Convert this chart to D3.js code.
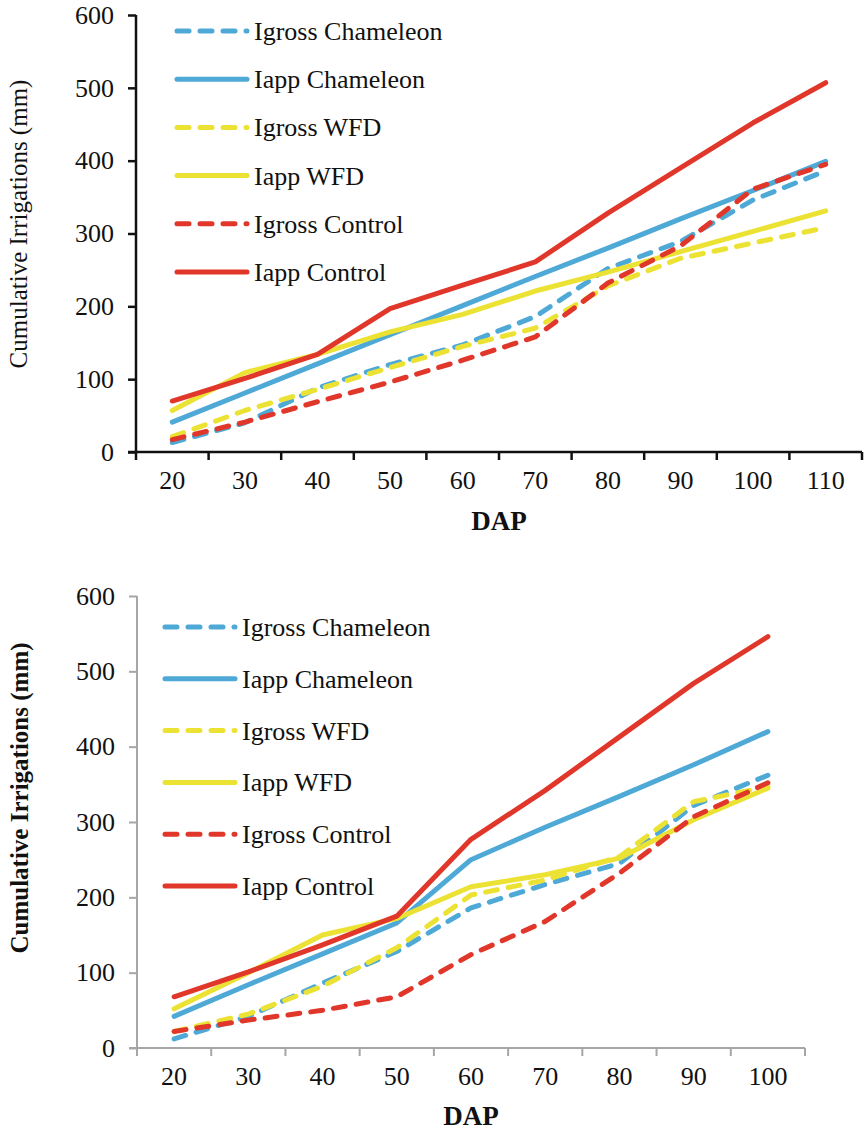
<!DOCTYPE html>
<html>
<head>
<meta charset="utf-8">
<script src="https://cdn.jsdelivr.net/npm/d3@7"></script>
<style>
    body { margin: 0; background: #fff; }
</style>
</head>
<body>
<script>

// ---- data ----
var seriesNames = ["Igross Chameleon", "Iapp Chameleon", "Igross WFD", "Iapp WFD", "Igross Control", "Iapp Control"];
var seriesColors = ["#4ea9d7", "#4ea9d7", "#ebe233", "#ebe233", "#e1362a", "#e1362a"];
var seriesDashed = [true, false, true, false, true, false];
var yTicks = [0, 100, 200, 300, 400, 500, 600];

// top panel
var dapTop = [20, 30, 40, 50, 60, 70, 80, 90, 100, 110];
var igrossChameleonTop = [13, 40, 88, 120, 147, 186, 252, 289, 346, 386];
var iappChameleonTop = [41, 81, 121, 161, 201, 241, 280, 320, 359, 399];
var igrossWfdTop = [21, 57, 86, 116, 145, 170, 228, 266, 287, 308];
var iappWfdTop = [57, 109, 134, 165, 189, 221, 247, 275, 303, 331];
var igrossControlTop = [17, 41, 69, 96, 126, 158, 232, 283, 361, 395];
var iappControlTop = [70, 101, 134, 197, 229, 261, 328, 390, 452, 507];

// bottom panel
var dapBottom = [20, 30, 40, 50, 60, 70, 80, 90, 100];
var igrossChameleonBottom = [12, 42, 86, 128, 186, 217, 245, 322, 362];
var iappChameleonBottom = [42, 84, 125, 166, 250, 293, 334, 376, 420];
var igrossWfdBottom = [22, 45, 82, 133, 203, 223, 254, 327, 347];
var iappWfdBottom = [52, 100, 150, 172, 214, 230, 252, 303, 345];
var igrossControlBottom = [22, 37, 50, 68, 124, 168, 232, 307, 352];
var iappControlBottom = [68, 101, 137, 175, 277, 342, 413, 484, 546];

var FONT = "'Liberation Serif', 'Times New Roman', Tinos, 'DejaVu Serif', serif";

var svg = d3.select("body")
    .append("svg")
        .attr("width", 865)
        .attr("height", 1131)
        .attr("font-family", FONT);

function drawPanel(cfg) {

    var x = d3.scaleBand()
        .domain(cfg.dap)
        .range([cfg.left, cfg.right]);

    var y = d3.scaleLinear()
        .domain([0, 600])
        .range([cfg.bottom, cfg.top]);

    var g = svg.append("g");

    // y axis
    var yAxis = g.append("g")
        .attr("transform", "translate(" + cfg.left + ",0)")
        .call(d3.axisLeft(y).tickValues(yTicks).tickSize(8).tickPadding(14));

    // x axis, ticks sit between categories
    var xAxis = g.append("g")
        .attr("transform", "translate(0," + cfg.bottom + ")")
        .call(d3.axisBottom(x).tickSize(0).tickPadding(19));

    xAxis.selectAll(".cat-tick")
        .data(cfg.dap.concat(["end"]))
        .enter()
        .append("line")
            .attr("class", "cat-tick")
            .attr("x1", function (d) { return d === "end" ? cfg.right : x(d); })
            .attr("x2", function (d) { return d === "end" ? cfg.right : x(d); })
            .attr("y1", 0)
            .attr("y2", 8);

    [yAxis, xAxis].forEach(function (a) {
        a.attr("font-family", FONT).attr("font-size", 26);
        a.select(".domain").attr("d", null);
        a.selectAll("line, path")
            .attr("stroke", cfg.axisColor)
            .attr("stroke-width", cfg.axisWidth);
        a.selectAll("text")
            .attr("fill", "#111")
            .attr("font-family", FONT)
            .attr("font-size", 26);
    });

    g.append("line")
        .attr("x1", cfg.left).attr("x2", cfg.left)
        .attr("y1", cfg.top).attr("y2", cfg.bottom)
        .attr("stroke", cfg.axisColor).attr("stroke-width", cfg.axisWidth);

    g.append("line")
        .attr("x1", cfg.left - 8).attr("x2", cfg.right)
        .attr("y1", cfg.bottom).attr("y2", cfg.bottom)
        .attr("stroke", cfg.axisColor).attr("stroke-width", cfg.axisWidth);

    // lines
    var line = d3.line()
        .x(function (d, i) { return x(cfg.dap[i]) + x.bandwidth() / 2; })
        .y(function (d) { return y(d); });

    cfg.series.forEach(function (vals, i) {
        g.append("path")
            .datum(vals)
            .attr("d", line)
            .attr("fill", "none")
            .attr("stroke", seriesColors[i])
            .attr("stroke-width", 5)
            .attr("stroke-linecap", "round")
            .attr("stroke-linejoin", "round")
            .attr("stroke-dasharray", seriesDashed[i] ? "12,11" : null);
    });

    // legend
    seriesNames.forEach(function (name, i) {
        var ly = cfg.legendY + i * cfg.legendStep;
        g.append("line")
            .attr("x1", cfg.legendX).attr("x2", cfg.legendX + 70)
            .attr("y1", ly).attr("y2", ly)
            .attr("stroke", seriesColors[i])
            .attr("stroke-width", 5)
            .attr("stroke-linecap", "round")
            .attr("stroke-dasharray", seriesDashed[i] ? "12,11" : null);
        g.append("text")
            .attr("x", cfg.legendX + 77)
            .attr("y", ly + 9)
            .attr("font-family", FONT)
            .attr("font-size", 26)
            .attr("fill", "#111")
            .text(name);
    });

    // titles
    g.append("text")
        .attr("transform", "translate(" + cfg.yLabelX + "," + cfg.yLabelY + ") rotate(-90)")
        .attr("text-anchor", "middle")
        .attr("font-family", FONT)
        .attr("font-size", 25)
        .attr("font-weight", cfg.yLabelBold ? "bold" : "normal")
        .attr("fill", "#111")
        .text("Cumulative Irrigations (mm)");

    g.append("text")
        .attr("x", (cfg.left + cfg.right) / 2)
        .attr("y", cfg.xLabelY)
        .attr("text-anchor", "middle")
        .attr("font-family", FONT)
        .attr("font-size", 27)
        .attr("font-weight", "bold")
        .attr("fill", "#111")
        .text("DAP");
}

drawPanel({
    dap: dapTop,
    series: [igrossChameleonTop, iappChameleonTop, igrossWfdTop, iappWfdTop, igrossControlTop, iappControlTop],
    left: 136, right: 862, top: 15, bottom: 452,
    axisColor: "#111", axisWidth: 2.5,
    legendX: 177, legendY: 31, legendStep: 48.2,
    yLabelX: 27, yLabelY: 224, yLabelBold: false,
    xLabelY: 530
});

drawPanel({
    dap: dapBottom,
    series: [igrossChameleonBottom, iappChameleonBottom, igrossWfdBottom, iappWfdBottom, igrossControlBottom, iappControlBottom],
    left: 137, right: 805, top: 596, bottom: 1048,
    axisColor: "#a6a6a6", axisWidth: 2,
    legendX: 165, legendY: 627, legendStep: 51.8,
    yLabelX: 28, yLabelY: 798, yLabelBold: true,
    xLabelY: 1125
});

</script>
</body>
</html>
